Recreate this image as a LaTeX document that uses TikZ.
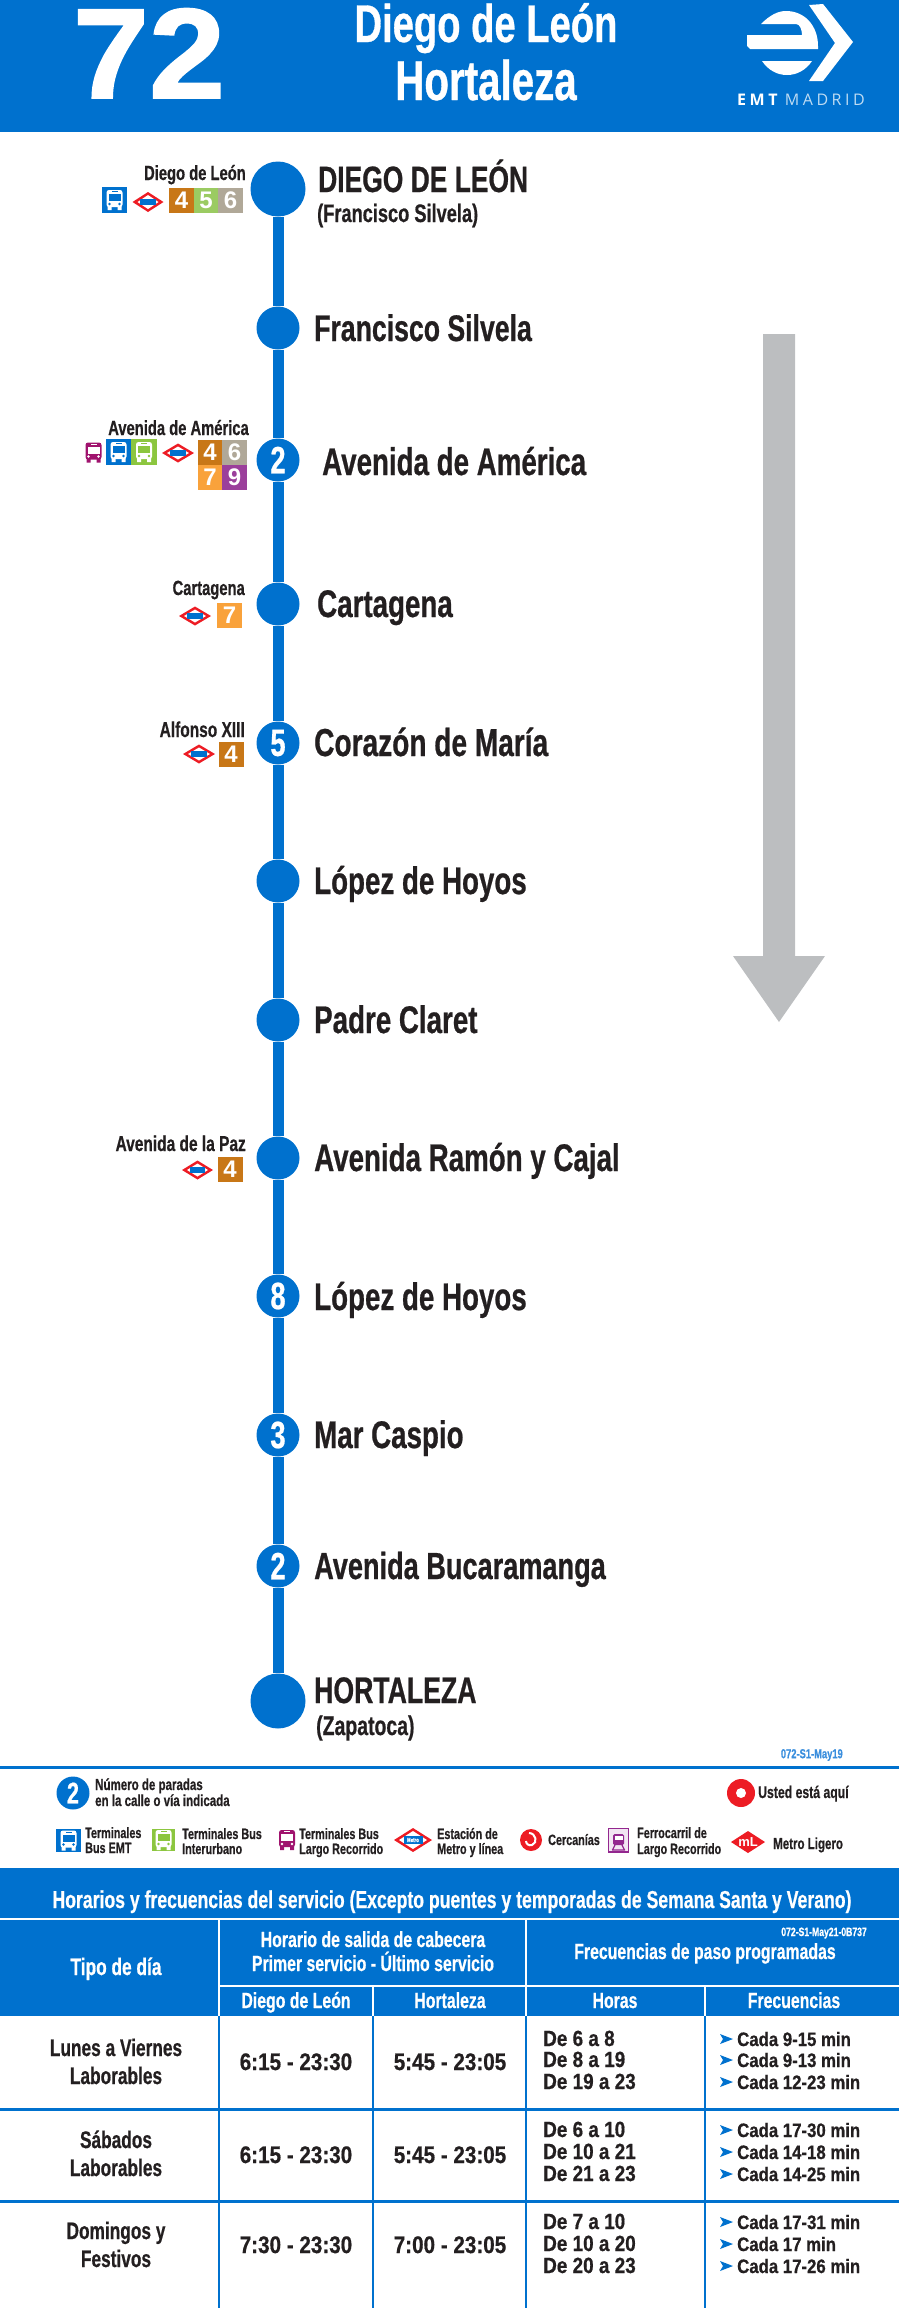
\documentclass[tikz,border=0pt]{standalone}
\usepackage{fontspec}
\setmainfont[FakeStretch=0.72,BoldFeatures={FakeBold=0.6}]{Liberation Sans}
\newfontfamily\widefont[FakeStretch=0.86,BoldFeatures={FakeBold=0.6}]{Liberation Sans}
\newfontfamily\digitfont{Liberation Sans}
\newfontfamily\bigfont[FakeStretch=1.07,BoldFeatures={FakeBold=1.5}]{Liberation Sans}
\newfontfamily\logofont[LetterSpace=22]{Open Sans}
\definecolor{emtblue}{HTML}{0071CE}
\definecolor{ink}{HTML}{231F20}
\definecolor{codeblue}{HTML}{3A8EDD}
\definecolor{arrowgrey}{HTML}{BCBEC0}
\definecolor{metrored}{HTML}{ED1C24}
\definecolor{busgreen}{HTML}{8CC63F}
\definecolor{buspurple}{HTML}{A0136E}
\definecolor{trainpurple}{HTML}{93278F}
\definecolor{line4}{HTML}{C87717}
\definecolor{line5}{HTML}{9BCB62}
\definecolor{line6}{HTML}{B0A898}
\definecolor{line7}{HTML}{F9A23B}
\definecolor{line9}{HTML}{9B3F9B}
\newcommand{\fsz}[1]{\fontsize{#1}{#1}\selectfont\bfseries}
\tikzset{
  stopdot/.style={circle,fill=emtblue,text=white,inner sep=0,minimum size=43pt,font=\fsz{38}},
  enddot/.style={circle,fill=emtblue,inner sep=0,minimum size=55pt},
  stoplabel/.style={anchor=base west,inner sep=0,text=ink,font=\fsz{38.5}},
  sublabel/.style={anchor=base west,inner sep=0,text=ink,font=\fsz{25.3}},
  interlabel/.style={anchor=base east,inner sep=0,text=ink,font=\fsz{20.5}},
  linebox/.style={rectangle,inner sep=0,minimum size=25pt,text=white,font=\digitfont\fsz{24}},
  legendtext/.style={anchor=base west,inner sep=0,text=ink,font=\fsz{15}},
  whitehead/.style={anchor=base,inner sep=0,text=white,font=\fsz{22}},
  daytext/.style={anchor=base,inner sep=0,text=ink,font=\fsz{24}},
  timetext/.style={anchor=base,inner sep=0,text=ink,font=\widefont\fsz{24}},
  hourtext/.style={anchor=base west,inner sep=0,text=ink,font=\widefont\fsz{22}},
  freqtext/.style={anchor=base west,inner sep=0,text=ink,font=\widefont\fsz{19.5}},
  whiterule/.style={white,line width=2.5pt},
  bluerule/.style={emtblue,line width=2pt}
}
% bus seen from the front, centred on #1,#2
\newcommand{\busicon}[4]{%
  \begin{scope}[shift={(#1,#2)}]
    \fill[#3,rounded corners=2.5pt] (-8,-10) rectangle (8,7);
    \fill[#3] (-7,5) rectangle (-3,10) (3,5) rectangle (7,10);
    \fill[#4] (-6,-6) rectangle (6,1);
    \fill[#4] (-3,-8.6) rectangle (3,-7.6);
    \fill[#4] (-5,4) circle (1.3) (5,4) circle (1.3);
  \end{scope}}
% metro diamond, centred on #1,#2
\newcommand{\metroicon}[4]{%
  \fill[metrored] (#1-#3,#2) -- (#1,#2-#4) -- (#1+#3,#2) -- (#1,#2+#4) -- cycle;
  \fill[white] (#1-#3+5,#2) -- (#1,#2-#4+3) -- (#1+#3-5,#2) -- (#1,#2+#4-3) -- cycle;
  \fill[emtblue] (#1-#3/2,#2-#4/3.2) rectangle (#1+#3/2,#2+#4/3.2);}
\begin{document}
\begin{tikzpicture}[x=1pt,y=-1pt]
  \useasboundingbox (0,0) rectangle (899,2308);
  % top banner
  \fill[emtblue] (0,0) rectangle (899,132);
  \node[anchor=base,inner sep=0,text=white,font=\bigfont\fsz{128}] (linenum) at (149,98) {72};
  \node[anchor=base,inner sep=0,text=white,font=\fsz{53}] (headfrom) at (486,42) {Diego de León};
  \node[anchor=base,inner sep=0,text=white,font=\fsz{56}] (headto) at (486,100) {Hortaleza};
  % logo
  \fill[white] (761,24) .. controls (770,15) and (778,11) .. (786,11) .. controls (805,11) and (818,26) .. (818,46)
    -- (818,49) -- (750,49) -- (747,46) -- (747,35) -- (802,35) .. controls (802,30) and (800,24) .. (796,24) -- cycle;
  \fill[white] (762,61) -- (812,61) .. controls (806,70) and (797,75) .. (787,75) .. controls (777,75) and (768,70) .. (762,61) -- cycle;
  \fill[white] (809,5) -- (823,4) -- (853,42) -- (823,81) -- (809,81) -- (835,43) -- cycle;
  \node[anchor=base west,inner sep=0,text=white,font=\logofont\fontsize{16}{16}\selectfont\bfseries] (logoa) at (737,105) {EMT};
  \node[anchor=base east,inner sep=0,text=white!75!emtblue,font=\logofont\fontsize{16}{16}\selectfont] (logob) at (865,105) {MADRID};
  % stops
  \node[enddot] (s1) at (278,189) {};
  \node[enddot] (s12) at (278,1701) {};
  \foreach \i/\yval/\num in {2/328/,3/460/2,4/604/,5/743/5,6/881/,7/1020/,8/1158/,9/1296/8,10/1435/3,11/1566/2} {
    \node[stopdot] (s\i) at (278,\yval) {\num};
  }
  \foreach \i/\j in {1/2,2/3,3/4,4/5,5/6,6/7,7/8,8/9,9/10,10/11,11/12} {
    \draw[emtblue,line width=11pt] (s\i) -- (s\j);
  }
  \foreach \i/\xval/\yval/\fs/\txt in {1/318/192/36.7/DIEGO DE LEÓN,2/314/341/37/Francisco Silvela,3/322/475/38.5/Avenida de América,
    4/317/617/38.5/Cartagena,5/314/756/39/Corazón de María,6/314/894/38.5/López de Hoyos,7/314/1033/38.5/Padre Claret,
    8/314/1171/38.5/Avenida Ramón y Cajal,9/314/1310/38.5/López de Hoyos,10/314/1448/38.5/Mar Caspio,11/314/1579/37.7/Avenida Bucaramanga,12/314/1703/37/HORTALEZA} {
    \node[stoplabel,font=\fsz{\fs}] (name\i) at (\xval,\yval) {\txt};
  }
  \node[sublabel] (sub1) at (317,222) {(Francisco Silvela)};
  \node[sublabel,font=\fsz{27}] (sub12) at (316,1735) {(Zapatoca)};
  % interchanges
  \foreach \i/\xval/\yval/\fs/\txt in {1/246/180/20.5/Diego de León,3/249/435/20.5/Avenida de América,4/245/595/20.5/Cartagena,5/245/737/21.5/Alfonso XIII,8/246/1151/21.5/Avenida de la Paz} {
    \node[interlabel,font=\fsz{\fs}] (inter\i) at (\xval,\yval) {\txt};
  }
  \foreach \i/\xval/\yval/\lin in {a/181.5/200.5/4,b/206/200.5/5,c/230.5/200.5/6,d/210/452.5/4,e/234.5/452.5/6,f/210/477.5/7,g/234.5/477.5/9,
    h/229.5/615/7,k/231/754.5/4,m/230/1169.5/4} {
    \node[linebox,fill=line\lin] (box\i) at (\xval,\yval) {\lin};
  }
  \fill[emtblue] (102,187) rectangle (127,213);
  \busicon{114.5}{200}{white}{emtblue}
  \metroicon{148}{202}{15.5}{10}
  \busicon{93.5}{452.5}{buspurple}{white}
  \fill[emtblue] (106,439) rectangle (131,465);
  \busicon{118.5}{452}{white}{emtblue}
  \fill[busgreen] (131,439) rectangle (157,465);
  \busicon{144}{452}{white}{busgreen}
  \metroicon{178}{453}{16}{9.5}
  \metroicon{195}{616}{16}{9.5}
  \metroicon{199}{754}{16}{9.5}
  \metroicon{197.5}{1170}{15.5}{9.5}
  % direction arrow
  \fill[arrowgrey] (763,334) -- (795,334) -- (795,956) -- (825,956) -- (779,1022) -- (733,956) -- (763,956) -- cycle;
  % legend
  \node[anchor=east,inner sep=0,text=codeblue,font=\fsz{13}] (code1) at (843,1755) {072-S1-May19};
  \draw[emtblue,line width=3pt] (0,1767) -- (899,1767);
  \node[circle,fill=emtblue,text=white,inner sep=0,minimum size=33pt,font=\fsz{30}] (key2) at (73,1793) {2};
  \node[legendtext,font=\fsz{16}] (keya) at (95,1790) {Número de paradas};
  \node[legendtext,font=\fsz{16}] (keyb) at (95,1806) {en la calle o vía indicada};
  \node[circle,fill=metrored,inner sep=0,minimum size=28pt] (here) at (741,1793) {};
  \node[circle,fill=white,inner sep=0,minimum size=10pt] (herehole) at (741,1793) {};
  \node[legendtext,font=\fsz{17}] (heretxt) at (758,1798) {Usted está aquí};
  \foreach \i/\xval/\yval/\txt in {1/85/1838/Terminales,2/85/1853/Bus EMT,3/182/1839/Terminales Bus,4/182/1854/Interurbano,
    5/299/1839/Terminales Bus,6/299/1854/Largo Recorrido,7/437/1839/Estación de,8/437/1854/Metro y línea,
    9/548/1845/Cercanías,10/637/1838/Ferrocarril de,11/637/1854/Largo Recorrido} {
    \node[legendtext] (key\i) at (\xval,\yval) {\txt};
  }
  \node[legendtext,font=\fsz{16}] (key12) at (773,1849) {Metro Ligero};
  \fill[emtblue] (56,1829) rectangle (81,1852);
  \busicon{68.5}{1840.5}{white}{emtblue}
  \fill[busgreen] (152,1829) rectangle (175,1851);
  \busicon{163.5}{1840}{white}{busgreen}
  \busicon{287}{1840}{buspurple}{white}
  \metroicon{413}{1840}{19}{12}
  \node[inner sep=0,text=white,font=\fsz{6}] (metrotxt) at (413,1840) {Metro};
  % cercanias mark
  \node[circle,fill=metrored,inner sep=0,minimum size=22pt] (renfe) at (531,1840) {};
  \draw[white,line width=2pt] (529,1833) .. controls (536,1833) and (538,1843) .. (532,1845) .. controls (529,1846) and (526,1844) .. (526,1841);
  % train mark
  \draw[trainpurple,line width=1.5pt,fill=trainpurple!12] (608.5,1828.5) rectangle (628.5,1852);
  \fill[trainpurple,rounded corners=1.5pt] (613,1834) rectangle (624,1845);
  \fill[white] (614.5,1836) rectangle (622.5,1840);
  \draw[trainpurple,line width=1.2pt] (615,1845) -- (612.5,1850) (622,1845) -- (624.5,1850) (612,1850) -- (625,1850);
  % metro ligero mark
  \fill[metrored] (731,1842) -- (748,1831) -- (765,1842) -- (748,1853) -- cycle;
  \node[inner sep=0,text=white,font=\digitfont\fsz{13}] (mltxt) at (748,1842) {mL};
  % timetable
  \fill[emtblue] (0,1868) rectangle (899,2016);
  \node[whitehead,font=\fsz{24.5}] (tabletitle) at (452,1908) {Horarios y frecuencias del servicio (Excepto puentes y temporadas de Semana Santa y Verano)};
  \draw[whiterule] (0,1919) -- (899,1919);
  \draw[whiterule] (219,1986) -- (899,1986);
  \foreach \xval/\ya in {219/1919,526/1919,373/1986,705/1986} {
    \draw[whiterule] (\xval,\ya) -- (\xval,2016);
  }
  \foreach \xval in {219,373,526,705} {
    \draw[bluerule] (\xval,2016) -- (\xval,2308);
  }
  \foreach \yval in {2109,2201} {
    \draw[emtblue,line width=3pt] (0,\yval) -- (899,\yval);
  }
  \node[whitehead,font=\fsz{24}] (headday) at (116,1975) {Tipo de día};
  \node[whitehead] (headsched) at (373,1947) {Horario de salida de cabecera};
  \node[whitehead] (headfirst) at (373,1971) {Primer servicio - Último servicio};
  \node[whitehead] (headfreq) at (705,1959) {Frecuencias de paso programadas};
  \node[anchor=base east,inner sep=0,text=white,font=\fsz{12}] (code2) at (867,1936) {072-S1-May21-0B737};
  \foreach \i/\xval/\txt in {1/296/Diego de León,2/450/Hortaleza,3/615/Horas,4/794/Frecuencias} {
    \node[whitehead] (col\i) at (\xval,2008) {\txt};
  }
  \foreach \i/\yval/\txt in {1/2056/Lunes a Viernes,2/2084/Laborables,3/2148/Sábados,4/2176/Laborables,5/2239/Domingos y,6/2267/Festivos} {
    \node[daytext] (day\i) at (116,\yval) {\txt};
  }
  \foreach \i/\yval/\ta/\tb in {1/2070/6:15 - 23:30/5:45 - 23:05,2/2163/6:15 - 23:30/5:45 - 23:05,3/2253/7:30 - 23:30/7:00 - 23:05} {
    \node[timetext] (timea\i) at (296,\yval) {\ta};
    \node[timetext] (timeb\i) at (450,\yval) {\tb};
  }
  \foreach \i/\yval/\ta/\tb in {1/2046/De 6 a 8/Cada 9-15 min,2/2067/De 8 a 19/Cada 9-13 min,3/2089/De 19 a 23/Cada 12-23 min,
    4/2137/De 6 a 10/Cada 17-30 min,5/2159/De 10 a 21/Cada 14-18 min,6/2181/De 21 a 23/Cada 14-25 min,
    7/2229/De 7 a 10/Cada 17-31 min,8/2251/De 10 a 20/Cada 17 min,9/2273/De 20 a 23/Cada 17-26 min} {
    \node[hourtext] (hour\i) at (543,\yval) {\ta};
    \node[freqtext] (freq\i) at (737,\yval) {\tb};
    \fill[emtblue] (720,\yval-12) -- (733,\yval-7) -- (720,\yval-2) -- (723,\yval-7) -- cycle;
  }
\end{tikzpicture}
\end{document}
